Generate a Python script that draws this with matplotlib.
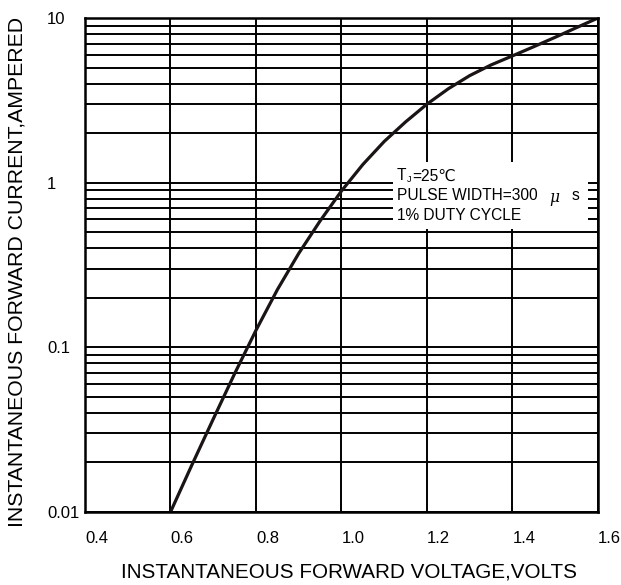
import matplotlib
matplotlib.use("Agg")
import matplotlib.pyplot as plt
from matplotlib.ticker import LogLocator, FixedLocator, NullFormatter
from matplotlib.patches import Rectangle
import numpy as np

# Data (forward voltage V, forward current A)
voltage = [0.60, 0.65, 0.70, 0.75, 0.80, 0.85, 0.90, 0.95, 1.00, 1.05, 1.10,
           1.15, 1.20, 1.25, 1.30, 1.35, 1.40, 1.45, 1.50, 1.55, 1.60]
current = [0.0100, 0.0193, 0.0367, 0.0692, 0.127, 0.224, 0.372, 0.586, 0.891,
           1.29, 1.78, 2.34, 3.00, 3.72, 4.47, 5.19, 5.89, 6.70, 7.64, 8.75,
           10.0]

x_ticks = [0.4, 0.6, 0.8, 1.0, 1.2, 1.4, 1.6]
x_tick_labels = ["0.4", "0.6", "0.8", "1.0", "1.2", "1.4", "1.6"]
y_ticks = [0.01, 0.1, 1, 10]
y_tick_labels = ["0.01", "0.1", "1", "10"]

FONT = ["Liberation Sans", "DejaVu Sans"]
plt.rcParams["font.family"] = FONT

W, H = 621, 585
fig = plt.figure(figsize=(W / 100, H / 100), dpi=100)
L, R, T, B = 85, 598, 18, 512
ax = fig.add_axes([L / W, 1 - B / H, (R - L) / W, (B - T) / H])

ax.set_yscale("log")
ax.set_xlim(0.4, 1.6)
ax.set_ylim(0.01, 10)

ax.xaxis.set_major_locator(FixedLocator(x_ticks))
ax.set_xticklabels(x_tick_labels)
ax.yaxis.set_major_locator(FixedLocator(y_ticks))
ax.set_yticklabels(y_tick_labels)
ax.yaxis.set_minor_locator(LogLocator(base=10, subs=np.arange(2, 10)))
ax.yaxis.set_minor_formatter(NullFormatter())

ax.tick_params(axis="both", which="both", length=0)
ax.tick_params(axis="x", labelsize=12, pad=14)
ax.tick_params(axis="y", labelsize=12, pad=27.4)
for lab in ax.get_xticklabels():
    lab.set_ha("left")
for lab in ax.get_yticklabels():
    lab.set_ha("left")

ax.set_axisbelow(True)
ax.grid(True, axis="x", which="major", color="black", lw=1.4)
ax.grid(True, axis="y", which="both", color="black", lw=1.4)

for s in ax.spines.values():
    s.set_linewidth(1.8)
    s.set_color("black")
    s.set_zorder(5)

# white box behind the note
ax.add_patch(Rectangle((0.600, 0.573), 0.380, 0.1355, transform=ax.transAxes,
                       facecolor="white", edgecolor="none", zorder=1))

ax.plot(voltage, current, color="#1a1414", lw=2.3, zorder=3,
        solid_joinstyle="round")


def fx(px):
    return px / W


def fy(py):
    return 1 - py / H


NS = 11.2
fig.text(fx(397), fy(176), "T", fontsize=NS, va="center", ha="left")
fig.text(fx(406.5), fy(179), "J", fontsize=6.5, va="center", ha="left")
fig.text(fx(412), fy(176), "=25\u2103", fontsize=NS, va="center", ha="left")
fig.text(fx(397), fy(196), "PULSE WIDTH=300", fontsize=NS, va="center",
         ha="left")
fig.text(fx(549), fy(197), "\u03bc", fontsize=NS, va="center", ha="left",
         family=["DejaVu Serif"], style="italic")
fig.text(fx(572), fy(196), "s", fontsize=NS, va="center", ha="left")
fig.text(fx(397), fy(215), "1% DUTY CYCLE", fontsize=NS, va="center",
         ha="left")

fig.text(fx(349), fy(572), "INSTANTANEOUS FORWARD VOLTAGE,VOLTS",
         fontsize=14.9, ha="center", va="center")
fig.text(fx(17), fy(272), "INSTANTANEOUS FORWARD CURRENT,AMPERED",
         fontsize=15.3, ha="center", va="center", rotation=90)

fig.savefig("out.png", dpi=100)
